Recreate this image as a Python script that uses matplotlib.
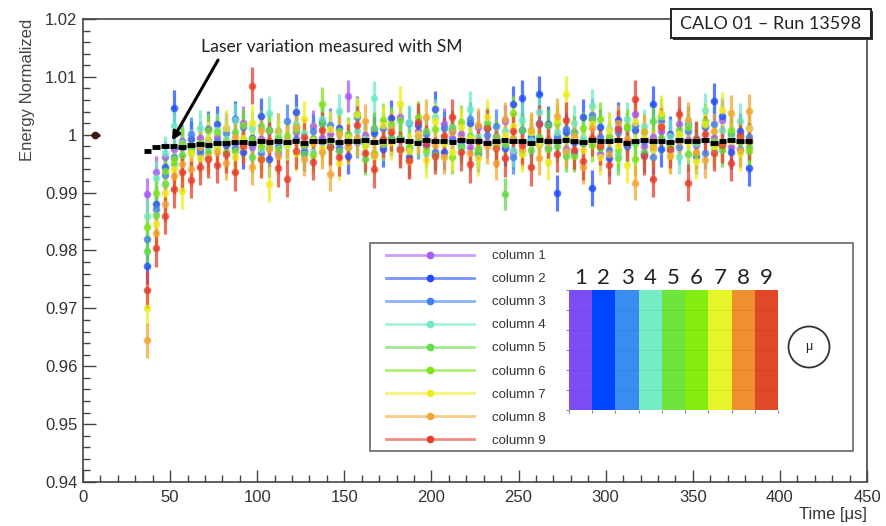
import matplotlib.pyplot as plt
import numpy as np
from matplotlib.colors import ListedColormap, to_rgba
from matplotlib.lines import Line2D
from matplotlib.patches import Rectangle, Ellipse
from matplotlib.ticker import MultipleLocator, FuncFormatter

plt.rcParams['font.family'] = ['Liberation Sans', 'DejaVu Sans']

# time bins (us)
time_us = [37, 42, 47, 52, 57, 62, 67, 72, 77, 82, 87, 92, 97, 102, 107, 112, 117, 122,
           127, 132, 137, 142, 147, 152, 157, 162, 167, 172, 177, 182, 187, 192, 197,
           202, 207, 212, 217, 222, 227, 232, 237, 242, 247, 252, 257, 262, 267, 272,
           277, 282, 287, 292, 297, 302, 307, 312, 317, 322, 327, 332, 337, 342, 347,
           352, 357, 362, 367, 372, 377, 382]

# normalisation point
ref_time = [7]
ref_energy = [1.0]

# laser variation measured with SM (black dashes)
laser_sm = [0.9972, 0.9978, 0.9980, 0.9981, 0.9979, 0.9983, 0.9984, 0.9982,
            0.9986, 0.9985, 0.9987, 0.9988, 0.9985, 0.9989, 0.9987, 0.9990, 0.9988, 0.9989,
            0.9986, 0.9990, 0.9989, 0.9991, 0.9988, 0.9990, 0.9989, 0.9991, 0.9987, 0.9990,
            0.9989, 0.9991, 0.9990, 0.9986, 0.9991, 0.9989, 0.9990, 0.9988, 0.9991, 0.9990,
            0.9989, 0.9985, 0.9990, 0.9991, 0.9989, 0.9990, 0.9986, 0.9991, 0.9990, 0.9989,
            0.9991, 0.9990, 0.9987, 0.9991, 0.9989, 0.9990, 0.9991, 0.9986, 0.9990, 0.9991,
            0.9989, 0.9990, 0.9987, 0.9991, 0.9990, 0.9989, 0.9991, 0.9986, 0.9990, 0.9991,
            0.9989, 0.9990]

col1 = [0.9897, 0.9935, 0.9962, 0.9975, 0.9990, 0.9978, 0.9995, 0.9982,
        0.9996, 1.0012, 0.9985, 1.0021, 0.9978, 0.9993, 1.0008, 0.9969, 0.9990, 1.0004,
        0.9981, 1.0015, 0.9995, 1.0002, 0.9974, 1.0067, 0.9988, 0.9999, 1.0010, 0.9983,
        0.9992, 1.0031, 0.9976, 1.0006, 0.9989, 0.9968, 1.0018, 0.9994, 1.0001, 0.9979,
        1.0013, 0.9987, 0.9997, 1.0024, 0.9971, 1.0009, 0.9992, 0.9984, 1.0016, 0.9998,
        0.9975, 1.0005, 0.9990, 1.0028, 0.9966, 0.9994, 1.0011, 0.9986, 1.0035, 0.9980,
        0.9996, 1.0007, 0.9973, 1.0019, 0.9991, 0.9983, 1.0014, 0.9995, 1.0026, 0.9978,
        0.9999, 1.0012]
col2 = [0.9773, 0.9880, 0.9945, 1.0046, 0.9982, 0.9992, 0.9975, 1.0010,
        1.0018, 0.9982, 1.0027, 0.9971, 0.9995, 1.0033, 0.9958, 1.0006, 0.9984, 1.0040,
        0.9969, 0.9992, 1.0022, 0.9980, 1.0011, 0.9963, 1.0036, 0.9987, 1.0003, 0.9975,
        1.0029, 0.9994, 0.9961, 1.0016, 0.9982, 1.0045, 0.9970, 1.0008, 0.9991, 1.0021,
        0.9966, 1.0012, 0.9985, 0.9977, 1.0053, 1.0063, 0.9996, 1.0070, 1.0019, 0.9899,
        1.0004, 0.9988, 1.0030, 0.9908, 1.0013, 0.9960, 1.0025, 0.9981, 1.0009, 0.9967,
        1.0053, 0.9976, 1.0002, 0.9990, 1.0018, 0.9964, 1.0015, 1.0058, 1.0032, 0.9971,
        1.0006, 0.9943]
col3 = [0.9820, 0.9872, 0.9930, 0.9962, 0.9978, 1.0002, 0.9968, 0.9991,
        0.9990, 1.0003, 0.9977, 1.0014, 0.9986, 0.9969, 1.0009, 0.9981, 1.0024, 0.9993,
        0.9972, 1.0006, 0.9988, 1.0017, 0.9979, 0.9998, 1.0030, 0.9984, 0.9965, 1.0011,
        0.9995, 0.9976, 1.0020, 0.9987, 1.0002, 0.9970, 1.0012, 0.9991, 0.9983, 1.0027,
        0.9974, 0.9999, 1.0015, 0.9980, 0.9962, 1.0008, 0.9989, 1.0021, 0.9977, 0.9994,
        1.0010, 0.9968, 0.9985, 1.0034, 0.9996, 0.9973, 1.0005, 0.9982, 1.0016, 0.9990,
        0.9961, 1.0023, 0.9987, 0.9978, 1.0007, 0.9993, 0.9969, 1.0019, 0.9984, 1.0001,
        0.9975, 0.9996]
col4 = [0.9860, 0.9925, 0.9968, 1.0015, 0.9986, 0.9980, 1.0012, 0.9979,
        1.0008, 0.9992, 1.0025, 0.9984, 1.0011, 0.9975, 1.0037, 0.9995, 0.9982, 1.0019,
        1.0003, 0.9971, 1.0028, 0.9989, 1.0041, 0.9980, 1.0006, 0.9993, 1.0063, 0.9985,
        1.0014, 0.9977, 1.0022, 1.0000, 0.9968, 1.0031, 0.9990, 1.0012, 0.9979, 1.0045,
        0.9996, 1.0018, 0.9983, 1.0007, 0.9974, 1.0026, 0.9991, 1.0039, 0.9986, 1.0004,
        0.9970, 1.0021, 0.9994, 1.0049, 0.9981, 1.0010, 0.9966, 1.0027, 0.9988, 1.0015,
        0.9976, 1.0033, 0.9997, 0.9962, 1.0020, 0.9985, 1.0042, 0.9973, 1.0009, 0.9992,
        1.0024, 0.9987]
col5 = [0.9800, 0.9862, 0.9915, 0.9950, 0.9965, 0.9975, 0.9983, 0.9970,
        0.9983, 0.9970, 1.0004, 0.9991, 0.9962, 1.0015, 0.9978, 0.9996, 0.9986, 1.0008,
        0.9967, 0.9993, 1.0019, 0.9980, 0.9972, 1.0002, 0.9989, 0.9958, 1.0011, 0.9984,
        0.9995, 1.0026, 0.9976, 0.9990, 1.0006, 0.9965, 0.9987, 1.0013, 0.9979, 0.9998,
        0.9969, 1.0021, 0.9985, 0.9898, 0.9992, 1.0009, 0.9974, 0.9996, 1.0017, 0.9981,
        0.9963, 1.0004, 0.9988, 1.0028, 0.9977, 0.9993, 0.9959, 1.0012, 0.9986, 0.9971,
        1.0023, 0.9995, 0.9980, 1.0008, 0.9966, 0.9990, 1.0016, 0.9982, 0.9973, 1.0003,
        0.9988, 0.9978]
col6 = [0.9840, 0.9900, 0.9938, 0.9958, 0.9984, 0.9970, 0.9986, 1.0008,
        1.0004, 0.9987, 0.9972, 1.0016, 0.9993, 0.9980, 1.0009, 0.9976, 0.9998, 1.0012,
        0.9983, 0.9965, 1.0053, 0.9991, 1.0007, 0.9978, 1.0034, 0.9986, 0.9969, 1.0025,
        1.0019, 0.9995, 0.9981, 1.0030, 0.9973, 1.0010, 0.9989, 0.9961, 1.0022, 0.9992,
        0.9977, 1.0014, 0.9996, 0.9984, 1.0038, 0.9970, 1.0005, 0.9988, 0.9975, 1.0020,
        0.9993, 0.9964, 1.0011, 0.9982, 1.0027, 0.9997, 0.9974, 1.0015, 0.9958, 1.0006,
        0.9986, 1.0032, 0.9978, 0.9999, 1.0013, 0.9967, 1.0024, 0.9990, 0.9981, 1.0008,
        0.9995, 0.9972]
col7 = [0.9700, 0.9845, 0.9900, 0.9940, 0.9903, 0.9968, 0.9960, 0.9992,
        0.9975, 1.0011, 0.9962, 0.9994, 1.0020, 0.9958, 0.9915, 1.0006, 0.9983, 0.9969,
        1.0028, 0.9991, 0.9977, 1.0010, 0.9952, 0.9996, 1.0035, 0.9981, 0.9964, 1.0017,
        0.9988, 1.0053, 0.9972, 1.0001, 0.9957, 1.0024, 0.9986, 0.9970, 1.0013, 0.9994,
        0.9960, 1.0031, 0.9979, 0.9999, 1.0015, 0.9966, 1.0004, 0.9984, 0.9953, 1.0026,
        1.0070, 0.9992, 0.9973, 1.0018, 0.9961, 1.0008, 0.9982, 0.9948, 1.0022, 0.9995,
        0.9976, 1.0037, 0.9965, 1.0002, 0.9987, 0.9955, 1.0019, 0.9978, 1.0043, 0.9990,
        0.9968, 1.0012]
col8 = [0.9645, 0.9830, 0.9880, 0.9928, 0.9950, 0.9940, 0.9978, 0.9962,
        0.9970, 0.9952, 0.9996, 0.9981, 0.9944, 1.0008, 0.9975, 0.9963, 0.9990, 1.0014,
        0.9958, 0.9986, 0.9971, 0.9932, 1.0002, 0.9979, 0.9994, 1.0023, 0.9967, 0.9988,
        1.0010, 0.9974, 0.9955, 0.9997, 1.0031, 0.9983, 0.9962, 1.0005, 0.9992, 0.9969,
        1.0016, 0.9980, 0.9951, 1.0027, 0.9995, 0.9976, 1.0009, 0.9960, 0.9987, 1.0033,
        0.9972, 0.9998, 0.9945, 1.0011, 0.9984, 0.9966, 1.0021, 0.9993, 0.9917, 1.0004,
        0.9978, 1.0015, 0.9963, 0.9989, 1.0026, 0.9971, 0.9956, 1.0007, 0.9985, 1.0038,
        0.9974, 1.0041]
col9 = [0.9732, 0.9804, 0.9860, 0.9906, 0.9935, 0.9922, 0.9945, 0.9958,
        0.9948, 0.9966, 0.9935, 0.9981, 1.0085, 0.9958, 0.9990, 0.9942, 0.9924, 0.9972,
        0.9996, 0.9953, 1.0008, 0.9979, 0.9961, 0.9987, 1.0017, 0.9968, 0.9940, 0.9993,
        1.0004, 0.9975, 0.9956, 1.0022, 0.9984, 0.9964, 0.9998, 1.0030, 0.9970, 0.9949,
        0.9989, 1.0012, 0.9977, 0.9959, 1.0006, 0.9982, 0.9944, 1.0019, 0.9991, 0.9967,
        1.0025, 0.9973, 0.9954, 0.9995, 0.9980, 0.9947, 1.0010, 0.9986, 1.0062, 0.9963,
        0.9924, 1.0014, 0.9975, 1.0035, 0.9917, 0.9992, 1.0001, 0.9969, 0.9983, 0.9952,
        0.9997, 0.9989]

col_err = [0.0028, 0.0031, 0.0029, 0.0030, 0.0028, 0.0029, 0.0031, 0.0030, 0.0032]
col_names = ['column 1', 'column 2', 'column 3', 'column 4', 'column 5',
             'column 6', 'column 7', 'column 8', 'column 9']
col_colors = ['#a65cf6', '#1f4dff', '#3f80f2', '#70e8c8', '#62dc48',
              '#80e41c', '#f0ec22', '#f2a836', '#e5402e']
strip_labels = ['1', '2', '3', '4', '5', '6', '7', '8', '9']
strip_colors = ['#7b4df7', '#0044ff', '#3a8cf0', '#76ecc6', '#6ee43c',
                '#84ec10', '#e6f42a', '#ee9030', '#e04828']

W, H = 886, 526


def fx(px):
    return px / W


def fy(py):
    return 1 - py / H


fig = plt.figure(figsize=(W / 100, H / 100), dpi=100)
ax = fig.add_axes([fx(83), fy(482), fx(867) - fx(83), fy(19) - fy(482)])

series = [col1, col2, col3, col4, col5, col6, col7, col8, col9]
for vals, err, c in zip(series, col_err, col_colors):
    ax.errorbar(time_us, vals, yerr=err, xerr=1.3, fmt='o', ms=5.5, mew=0,
                color=c, ecolor=c, elinewidth=2.3, capsize=0, alpha=0.75)

ax.errorbar(time_us, laser_sm, xerr=2.2, fmt='none', ecolor='black',
            elinewidth=3.5, zorder=4)
ax.errorbar(ref_time, ref_energy, xerr=2.5, fmt='o', ms=4.5, color='#3b1a10',
            elinewidth=2)

ax.set_xlim(0, 450)
ax.set_ylim(0.94, 1.02)
ax.xaxis.set_major_locator(MultipleLocator(50))
ax.xaxis.set_minor_locator(MultipleLocator(10))
ax.yaxis.set_major_locator(MultipleLocator(0.01))
ax.yaxis.set_minor_locator(MultipleLocator(0.002))
ax.yaxis.set_major_formatter(FuncFormatter(lambda v, p: f'{v:g}'))
ax.xaxis.set_major_formatter(FuncFormatter(lambda v, p: f'{v:g}'))
ax.tick_params(which='both', direction='in', top=False, right=False,
               color='#444444', width=1, labelsize=12, labelcolor='#333333')
ax.tick_params(which='major', length=9)
ax.tick_params(which='minor', length=5)
ax.tick_params(axis='y', pad=4)
ax.tick_params(axis='x', pad=6)
for s in ax.spines.values():
    s.set_color('#444444')
    s.set_linewidth(1.2)

ax.set_ylabel('Energy Normalized', loc='top', fontsize=12, color='#444444')
ax.yaxis.set_label_coords(-0.061, 1.0)
ax.set_xlabel('Time [μs]', loc='right', fontsize=12, color='#333333')
ax.xaxis.set_label_coords(1.0, -0.054)

# annotation
ax.text(143, 1.0152, 'Laser variation measured with SM', ha='center', va='center',
        fontsize=12.6, family=['Lato', 'DejaVu Sans'], color='#222222')
ax.annotate('', xy=(51.1, 0.9990), xytext=(77.5, 1.0129),
            arrowprops=dict(arrowstyle='-|>', color='black', lw=2.2,
                            mutation_scale=12, shrinkA=0, shrinkB=0))

# legend box
ax.add_patch(Rectangle((fx(370), fy(451)), fx(853) - fx(370), fy(243) - fy(451),
                       transform=fig.transFigure, fc='white', ec='#666666',
                       lw=1.2, zorder=4.5, clip_on=False))
handles = [Line2D([0], [0], color=to_rgba(c, 0.6), lw=2, marker='o', ms=4.5,
                  mfc=c, mec=c) for c in col_colors]
ax.legend(handles, col_names, loc='upper left', bbox_to_anchor=(fx(386), fy(250)),
          bbox_transform=fig.transFigure, frameon=False, fontsize=9.5,
          handlelength=6.7, handletextpad=1.3, labelspacing=0.82, borderpad=0,
          borderaxespad=0, labelcolor='#333333')

# calorimeter column map
sax = fig.add_axes([fx(569), fy(410), fx(778) - fx(569), fy(290) - fy(410)])
sax.imshow(np.arange(len(strip_colors))[None, :], cmap=ListedColormap(strip_colors),
           aspect='auto', extent=(0, 9, 0, 6))
for k in range(1, 6):
    sax.axhline(k, color='black', alpha=0.07, lw=0.6)
sax.set_xticks(range(10))
sax.set_yticks(range(7))
sax.tick_params(length=2, color='#888888', labelbottom=False, labelleft=False)
for s in sax.spines.values():
    s.set_visible(False)
for i, lab in enumerate(strip_labels):
    sax.text(i + 0.5, 6.1, lab, ha='center', va='bottom', fontsize=16,
             family=['Lato', 'DejaVu Sans'], color='#222222', clip_on=False)

fig.add_artist(Ellipse((fx(809), fy(347)), 41 / W, 41 / H, transform=fig.transFigure,
                       fill=False, ec='#333333', lw=1.3, zorder=6))
fig.text(fx(809), fy(347), 'μ', ha='center', va='center', fontsize=9, color='#222222',
         zorder=7)

# title box
fig.add_artist(Rectangle((fx(673), fy(40)), fx(871) - fx(671), fy(9) - fy(38),
                         transform=fig.transFigure, fc='#333333', ec='none', zorder=5))
fig.add_artist(Rectangle((fx(671), fy(38)), fx(871) - fx(671), fy(9) - fy(38),
                         transform=fig.transFigure, fc='white', ec='#222222',
                         lw=1.4, zorder=5.5))
fig.text(fx(771), fy(24), 'CALO 01 – Run 13598', ha='center', va='center',
         fontsize=13, family=['Lato', 'DejaVu Sans'], color='#222222', zorder=7)

fig.savefig('out.png', dpi=100)
